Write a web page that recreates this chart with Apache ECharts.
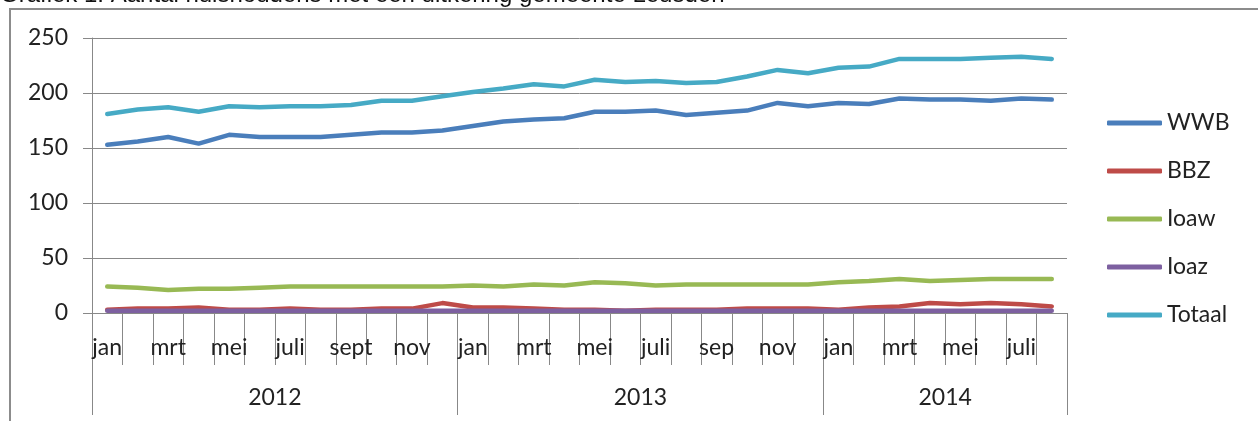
<!DOCTYPE html>
<html><head><meta charset="utf-8">
<script src="https://cdn.jsdelivr.net/npm/echarts@6/dist/echarts.min.js"></script>
<style>html,body{margin:0;padding:0;background:#fff}#c{width:1258px;height:421px}</style>
</head><body><div id="c"></div>
<script>
const titleText = 'Grafiek 1: Aantal huishoudens met een uitkering gemeente Leusden';
const years = ['2012', '2013', '2014'];
const months2012 = ['jan','feb','mrt','apr','mei','jun','juli','aug','sept','okt','nov','dec'];
const months2013 = ['jan','feb','mrt','apr','mei','jun','juli','aug','sep','okt','nov','dec'];
const months2014 = ['jan','feb','mrt','apr','mei','jun','juli','aug'];
const seriesNames = ['WWB', 'BBZ', 'Ioaw', 'Ioaz', 'Totaal'];
const wwb = [153,156,160,154,162,160,160,160,162,164,164,166, 170,174,176,177,183,183,184,180,182,184,191,188, 191,190,195,194,194,193,195,194];
const bbz = [3,4,4,5,3,3,4,3,3,4,4,9, 5,5,4,3,3,2,3,3,3,4,4,4, 3,5,6,9,8,9,8,6];
const ioaw = [24,23,21,22,22,23,24,24,24,24,24,24, 25,24,26,25,28,27,25,26,26,26,26,26, 28,29,31,29,30,31,31,31];
const ioaz = [2,2,2,2,2,2,2,2,2,2,2,2, 2,2,2,2,2,2,2,2,2,2,2,2, 2,2,2,2,2,2,2,2];
const totaal = [181,185,187,183,188,187,188,188,189,193,193,197, 201,204,208,206,212,210,211,209,210,215,221,218, 223,224,231,231,231,232,233,231];
const yTicks = [0, 50, 100, 150, 200, 250];

const colors = ['#4a7ebb', '#be4b48', '#98b954', '#7d60a0', '#46aac5'];
const monthsPerYear = [months2012.length, months2013.length, months2014.length];
const categories = [].concat(months2012, months2013, months2014);
const total = categories.length;
const yearBounds = [0];
monthsPerYear.forEach(n => yearBounds.push(yearBounds[yearBounds.length - 1] + n));
const yearMids = monthsPerYear.map((n, i) => yearBounds[i] + n / 2);
const dataSets = [wwb, bbz, ioaw, ioaz, totaal];

const FONT = 'Lato';
const gridCol = '#888888';
const chart = echarts.init(document.getElementById('c'), null, {renderer: 'canvas'});
chart.setOption({
  animation: false,
  backgroundColor: '#fff',
  graphic: [
    {type: 'rect', shape: {x: 10, y: 9, width: 1400, height: 600}, style: {fill: null, stroke: '#8c8c8c', lineWidth: 2}, silent: true},
    {type: 'text', left: 0, top: -17, style: {text: titleText, font: '24px "Liberation Sans"', fill: '#111'}, silent: true}
  ],
  grid: {left: 92, right: 191, top: 38, bottom: 108, containLabel: false},
  legend: {
    orient: 'vertical', left: 1107, top: 111, padding: 0, itemWidth: 55, itemHeight: 5, itemGap: 24,
    icon: 'roundRect',
    textStyle: {fontFamily: FONT, fontSize: 23, color: '#222', lineHeight: 24},
    data: seriesNames
  },
  xAxis: [
    {
      type: 'category', data: categories, boundaryGap: true, position: 'bottom',
      axisLine: {show: true, lineStyle: {color: gridCol, width: 1}},
      axisTick: {show: true, interval: 0, length: 52, lineStyle: {color: gridCol, width: 1}},
      axisLabel: {interval: 1, margin: 23, fontFamily: FONT, fontSize: 23, color: '#222'},
      splitLine: {show: false}
    },
    {
      type: 'value', min: 0, max: total, position: 'bottom', gridIndex: 0,
      axisLine: {show: false},
      axisTick: {show: true, customValues: yearBounds, length: 102, lineStyle: {color: gridCol, width: 1}},
      axisLabel: {customValues: yearMids, margin: 73, fontFamily: FONT, fontSize: 23, color: '#222',
        formatter: v => { const i = yearMids.indexOf(v); return i >= 0 ? years[i] : ''; }},
      splitLine: {show: false}
    }
  ],
  yAxis: {
    type: 'value', min: yTicks[0], max: yTicks[yTicks.length - 1], interval: yTicks[1] - yTicks[0],
    axisLine: {show: true, lineStyle: {color: gridCol, width: 1}},
    axisTick: {show: true, length: 9, lineStyle: {color: gridCol, width: 1}},
    axisLabel: {margin: 24, fontFamily: FONT, fontSize: 23, color: '#222'},
    splitLine: {show: true, lineStyle: {color: gridCol, width: 1}}
  },
  series: seriesNames.map((name, i) => ({
    name, type: 'line', data: dataSets[i], xAxisIndex: 0,
    symbol: 'none', showSymbol: false, smooth: false,
    lineStyle: {color: colors[i], width: 4.5, cap: 'round', join: 'round'},
    itemStyle: {color: colors[i]}
  }))
});
</script></body></html>
